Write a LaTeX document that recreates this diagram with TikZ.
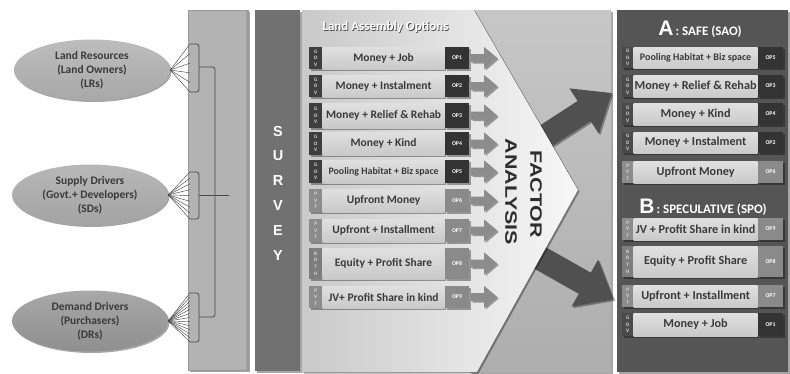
\documentclass[tikz,border=0pt]{standalone}
\usepackage{fontspec}
\setmainfont{Carlito}
\newfontfamily\arialf{Liberation Sans}
\usetikzlibrary{shapes.geometric,shadows,calc}
\definecolor{colbg}{HTML}{B3B3B3}
\definecolor{survc}{HTML}{717171}
\definecolor{midpan}{HTML}{B9B9B9}
\definecolor{darkpan}{HTML}{555555}
\definecolor{txt}{HTML}{3A3A3A}
\definecolor{govc}{HTML}{3E3E3E}
\definecolor{govr}{HTML}{4A4A4A}
\definecolor{pvtc}{HTML}{8C8C8C}
\definecolor{bothc}{HTML}{7E7E7E}
\definecolor{opdark}{HTML}{333333}
\definecolor{oplight}{HTML}{8A8A8A}
\definecolor{arrg}{HTML}{8C8C8C}
\definecolor{bigarr}{HTML}{505050}
\definecolor{linec}{HTML}{4A4A4A}
\newcommand\tw{13pt}
\newcommand\mw{122pt}
\newcommand\ow{24pt}
\newcommand\mfont{\fontsize{11.5}{13}\selectfont\bfseries}
\newcommand\optrow[9]{%
  \node[tagbox,fill=#6,minimum height=#4,anchor=west] (#1t) at (#2,#3) {#5};
  \node[mainbox,minimum height=#4,anchor=west] (#1m) at (#1t.east) {#7};
  \node[opbox,fill=#9,minimum height=#4,anchor=west] (#1o) at (#1m.east) {#8};}
\newcommand\smarrow[1]{%
  \fill[arrg,shd,shift={(#1o.east)}] (2,-4) -- (15,-4) -- (15,-11) -- (28,0) -- (15,11) -- (15,4) -- (2,4) -- cycle;}
\begin{document}
\begin{tikzpicture}[x=1pt,y=-1pt,
  shd/.style={drop shadow={shadow xshift=1.5pt,shadow yshift=-1.5pt,opacity=0.35,fill=black}},
  tagbox/.style={inner sep=0pt,minimum width=\tw,text=white!85!black,align=center,
     font=\fontsize{5.2}{6.6}\selectfont\bfseries,shd},
  mainbox/.style={inner sep=0pt,minimum width=\mw,top color=white!88!black,bottom color=white!79!black,
     text=txt,font=\mfont,shd},
  opbox/.style={inner sep=0pt,minimum width=\ow,text=white,font=\fontsize{5.8}{6}\selectfont\bfseries,shd},
  ell/.style={ellipse,minimum width=156pt,minimum height=61pt,inner sep=0pt,align=center,
     text=txt,font=\fontsize{11.5}{14}\selectfont\bfseries,shd},
  fan/.style={draw=linec,line width=0.45pt},
  bracel/.style={draw=linec,line width=0.8pt,rounded corners=2.5pt}]
\useasboundingbox (0,0) rectangle (790,373);

% ---- left column and ellipses
\fill[colbg,shd,draw=black!40,line width=0.3pt] (188,10) rectangle (248,370);
\fill[black!38] (245.5,10) rectangle (248,370);
\node[ell,top color=white!74!black,bottom color=white!66!black] (lr) at (92,70) {Land Resources\\(Land Owners)\\(LRs)};
\node[ell,top color=white!72!black,bottom color=white!64!black] (sd) at (90,195) {Supply Drivers\\(Govt.+ Developers)\\(SDs)};
\node[ell,top color=white!66!black,bottom color=white!56!black] (dr) at (90,321) {Demand Drivers\\(Purchasers)\\(DRs)};

\coordinate (lra) at (190,44);  \coordinate (lrb) at (190,92);
\coordinate (sda) at (190,172); \coordinate (sdb) at (190,219);
\coordinate (dra) at (190,293); \coordinate (drb) at (190,342);
\foreach \i in {0,...,5} \draw[fan] (lr.east) -- ($(lra)!\i/5!(lrb)$);
\foreach \i in {0,...,8} \draw[fan] (sd.east) -- ($(sda)!\i/8!(sdb)$);
\foreach \i in {0,...,12} \draw[fan] (dr.east) -- ($(dra)!\i/12!(drb)$);

\draw[bracel] (lra) -- (199,44) -- (199,92) -- (lrb);
\draw[bracel] (sda) -- (199,172) -- (199,219) -- (sdb);
\draw[bracel] (dra) -- (199,293) -- (199,342) -- (drb);
\coordinate (lrtip) at (199,67); \coordinate (sdtip) at (199,195); \coordinate (drtip) at (199,317);
\coordinate (bigtip) at (229,195);
\draw[bracel] (lrtip) -- (215,67) -- (215,317) -- (drtip);
\draw[draw=linec,line width=0.8pt] (sdtip) -- (bigtip);

% ---- survey column
\fill[survc,shd] (255,10) rectangle (300,371);
\node[text=white,align=center,font=\arialf\bfseries\fontsize{14.5}{24.8}\selectfont] (survey) at (278,193) {S\\U\\R\\V\\E\\Y};

% ---- middle panel and big arrows
\fill[top color=white!78!black,bottom color=white!68!black,shd] (470,10) rectangle (611,372);
\fill[bigarr,shd,shift={(538,141)},rotate=33] (0,-12) -- (55,-12) -- (55,-27) -- (88,0) -- (55,27) -- (55,12) -- (0,12) -- cycle;
\fill[bigarr,shd,shift={(537,256)},rotate=-29.5] (0,-12) -- (55,-12) -- (55,-27) -- (88,0) -- (55,27) -- (55,12) -- (0,12) -- cycle;

% ---- options chevron
\fill[left color=white!79!black,right color=white!97!black,shd] (302,10) -- (474,10) -- (578,190) -- (477,372) -- (302,372) -- cycle;
\node[text=black!70,anchor=west,font=\fontsize{13}{14}\selectfont\bfseries] at (319.8,27.8) {Land Assembly Options};
\node[text=white,anchor=west,font=\fontsize{13}{14}\selectfont\bfseries] (title) at (319,27) {Land Assembly Options};

\node[rotate=-90,text=black!82,font=\arialf\bfseries\fontsize{16.5}{17}\selectfont] (fac) at (536,194) {\scalebox{1.3}[1]{FACTOR}};
\node[rotate=-90,text=black!82,font=\arialf\bfseries\fontsize{16.5}{17}\selectfont] (ana) at (511,192) {\scalebox{1.3}[1]{ANALYSIS}};

\optrow{L1}{309}{58}{22pt}{G\\O\\V}{govc}{Money + Job}{OP1}{opdark}
\optrow{L2}{309}{86}{22pt}{G\\O\\V}{govc}{Money + Instalment}{OP2}{opdark}
\optrow{L3}{309}{115.5}{25pt}{G\\O\\V}{govc}{Money + Relief \& Rehab}{OP3}{opdark}
\optrow{L4}{309}{143.5}{23pt}{G\\O\\V}{govc}{Money + Kind}{OP4}{opdark}
\optrow{L5}{309}{171.5}{23pt}{G\\O\\V}{govc}{\fontsize{9.9}{11}\selectfont Pooling Habitat + Biz space}{OP5}{opdark}
\optrow{L6}{309}{200.5}{23pt}{P\\V\\T}{pvtc}{Upfront Money}{OP6}{oplight}
\optrow{L7}{309}{230.5}{23pt}{P\\V\\T}{pvtc}{Upfront + Installment}{OP7}{oplight}
\optrow{L8}{309}{263.5}{31pt}{B\\O\\T\\H}{bothc}{Equity + Profit Share}{OP8}{oplight}
\optrow{L9}{309}{297}{22pt}{P\\V\\T}{pvtc}{JV+ Profit Share in kind}{OP9}{oplight}
\foreach \r in {L1,L2,L3,L4,L5,L6,L7,L8,L9} {\smarrow{\r}}

% ---- right panel
\fill[darkpan,shd] (617,10) rectangle (788,372);
\node[anchor=base,text=white] (ta) at (700,35) {{\arialf\bfseries\fontsize{21}{22}\selectfont A}{\fontsize{13}{14}\selectfont\bfseries\,: SAFE (SAO)}};
\node[anchor=base,text=white] (tb) at (703,213) {{\arialf\bfseries\fontsize{21}{22}\selectfont B}{\fontsize{13}{14}\selectfont\bfseries\,: SPECULATIVE (SPO)}};
\renewcommand\tw{11pt}\renewcommand\mw{124pt}\renewcommand\ow{25pt}
\renewcommand\mfont{\fontsize{12.2}{14}\selectfont\bfseries}
\optrow{A1}{622}{57.5}{21pt}{G\\O\\V}{govr}{\fontsize{10}{11}\selectfont Pooling Habitat + Biz space}{OP5}{opdark}
\optrow{A2}{622}{86}{22pt}{G\\O\\V}{govr}{Money + Relief \& Rehab}{OP3}{opdark}
\optrow{A3}{622}{114}{22pt}{G\\O\\V}{govr}{Money + Kind}{OP4}{opdark}
\optrow{A4}{622}{142.5}{21pt}{G\\O\\V}{govr}{Money + Instalment}{OP2}{opdark}
\optrow{A5}{622}{172}{22pt}{P\\V\\T}{pvtc}{Upfront Money}{OP6}{oplight}
\optrow{B1}{622}{229}{22pt}{P\\V\\T}{pvtc}{JV + Profit Share in kind}{OP9}{oplight}
\optrow{B2}{622}{261.5}{31pt}{B\\O\\T\\H}{bothc}{Equity + Profit Share}{OP8}{oplight}
\optrow{B3}{622}{296}{22pt}{P\\V\\T}{pvtc}{Upfront + Installment}{OP7}{oplight}
\optrow{B4}{622}{324.5}{23pt}{G\\O\\V}{govr}{Money + Job}{OP1}{opdark}
\end{tikzpicture}
\end{document}
